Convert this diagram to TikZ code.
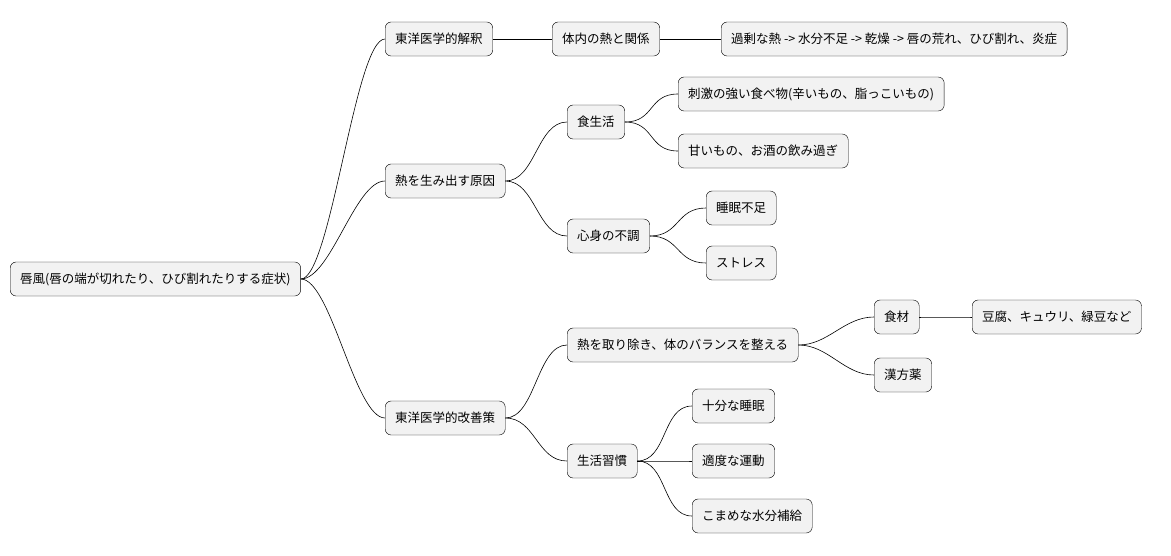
\documentclass[tikz,border=0pt]{standalone}
\usepackage{fontspec}
\newfontfamily\jp{Noto Sans CJK JP}
\usetikzlibrary{positioning}
\tikzset{
  topic/.style={draw=black, fill=gray!10, rounded corners=6pt, minimum height=34pt,
    inner xsep=10pt, anchor=west, font=\jp\fontsize{12.5}{14}\selectfont},
  branch/.style={black, line width=0.6pt}
}
\newcommand{\link}[2]{\draw[branch] (#1.east) .. controls +(30,0) and +(-30,0) .. (#2.west);}
\begin{document}
\begin{tikzpicture}[x=1pt,y=-1pt]
\useasboundingbox (0,0) rectangle (1171,555);
\node[topic] (root) at (10,279) {唇風(唇の端が切れたり、ひび割れたりする症状)};
% interpretation
\node[topic] (interp) at (385,39) {東洋医学的解釈};
\node[topic] (heat) at (552,39) {体内の熱と関係};
\node[topic] (chain) at (721,39) {過剰な熱 -> 水分不足 -> 乾燥 -> 唇の荒れ、ひび割れ、炎症};
% causes
\node[topic] (cause) at (385,181) {熱を生み出す原因};
\node[topic] (diet) at (567,122) {食生活};
\node[topic] (spicy) at (678,94) {刺激の強い食べ物(辛いもの、脂っこいもの)};
\node[topic] (sweet) at (678,151) {甘いもの、お酒の飲み過ぎ};
\node[topic] (mind) at (567,236) {心身の不調};
\node[topic] (sleep) at (706,208) {睡眠不足};
\node[topic] (stress) at (706,263) {ストレス};
% remedies
\node[topic] (remedy) at (385,418) {東洋医学的改善策};
\node[topic] (balance) at (567,345) {熱を取り除き、体のバランスを整える};
\node[topic] (food) at (874,317) {食材};
\node[topic] (tofu) at (972,317) {豆腐、キュウリ、緑豆など};
\node[topic] (kampo) at (874,375) {漢方薬};
\node[topic] (habit) at (567,461) {生活習慣};
\node[topic] (rest) at (692,406) {十分な睡眠};
\node[topic] (exercise) at (692,461) {適度な運動};
\node[topic] (water) at (692,516) {こまめな水分補給};

\link{root}{interp} \link{root}{cause} \link{root}{remedy}
\link{interp}{heat} \link{heat}{chain}
\link{cause}{diet} \link{cause}{mind}
\link{diet}{spicy} \link{diet}{sweet}
\link{mind}{sleep} \link{mind}{stress}
\link{remedy}{balance} \link{remedy}{habit}
\link{balance}{food} \link{balance}{kampo} \link{food}{tofu}
\link{habit}{rest} \link{habit}{exercise} \link{habit}{water}
\end{tikzpicture}
\end{document}
